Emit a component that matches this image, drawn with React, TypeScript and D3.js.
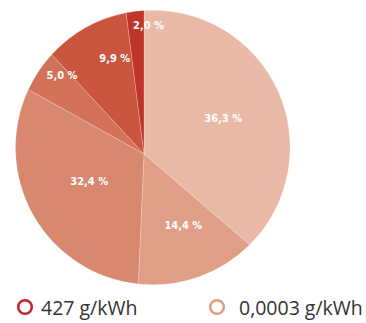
//@ts-nocheck
import { useEffect, useRef } from 'react';
import * as d3 from 'd3';

// slice shares, clockwise from 12 o'clock
const shares = [36.3, 14.4, 32.4, 5.0, 9.9, 2.0];
const shareLabels = ['36,3 %', '14,4 %', '32,4 %', '5,0 %', '9,9 %', '2,0 %'];
const legendNames = ['427 g/kWh', '0,0003 g/kWh'];

const sliceColors = ['#e9baa6', '#e09e87', '#d98870', '#d37259', '#ca553f', '#c0352b'];
const legendColors = ['#c0282d', '#e29c83'];

const App = () => {
    const svgRef = useRef();

    useEffect(() => {
        const svg = d3.select(svgRef.current);
        svg.selectAll('*').remove();

        // slices fan out from this point, the outline is a circle a bit off it
        const apex = [144, 154];
        const ctr = [152.8, 147.5];
        const R = 137.3;

        const pie = d3.pie().sort(null).value((d) => d);
        const arcs = pie(shares);

        const hit = (a) => {
            const dx = Math.sin(a), dy = -Math.cos(a);
            const fx = apex[0] - ctr[0], fy = apex[1] - ctr[1];
            const b = fx * dx + fy * dy;
            const c = fx * fx + fy * fy - R * R;
            const t = -b + Math.sqrt(b * b - c);
            return [apex[0] + t * dx, apex[1] + t * dy];
        };

        const slicePath = (d) => {
            const p0 = hit(d.startAngle);
            const p1 = hit(d.endAngle);
            const p = d3.path();
            p.moveTo(apex[0], apex[1]);
            p.lineTo(p0[0], p0[1]);
            const a0 = Math.atan2(p0[1] - ctr[1], p0[0] - ctr[0]);
            const a1 = Math.atan2(p1[1] - ctr[1], p1[0] - ctr[0]);
            p.arc(ctr[0], ctr[1], R, a0, a1, false);
            p.closePath();
            return p.toString();
        };

        svg.append('g')
            .selectAll('path')
            .data(arcs)
            .enter()
            .append('path')
            .attr('d', slicePath)
            .attr('fill', (d, i) => sliceColors[i])
            .attr('stroke', 'rgba(255,255,255,0.35)')
            .attr('stroke-width', 0.6);

        // label spots: [angle in degrees from 12 o'clock, distance from apex]
        const labelSpots = [[65.5, 87], [151, 81], [244, 61], [314, 114], [343, 100], [2, 129]];

        svg.append('g')
            .selectAll('text')
            .data(arcs)
            .enter()
            .append('text')
            .attr('x', (d, i) => apex[0] + labelSpots[i][1] * Math.sin(labelSpots[i][0] * Math.PI / 180))
            .attr('y', (d, i) => apex[1] - labelSpots[i][1] * Math.cos(labelSpots[i][0] * Math.PI / 180))
            .attr('dy', '0.36em')
            .attr('text-anchor', 'middle')
            .style('font-family', '"Liberation Sans Narrow", "DejaVu Sans Condensed", sans-serif')
            .style('font-weight', 'bold')
            .style('font-size', '11px')
            .style('fill', '#fff')
            .text((d, i) => shareLabels[i]);

        // legend
        const legendX = d3.scalePoint().domain(legendNames).range([25, 217]);
        const legend = svg.append('g');
        legendNames.forEach((name, i) => {
            const x = legendX(name);
            legend.append('circle')
                .attr('cx', x)
                .attr('cy', 307)
                .attr('r', 6.8)
                .attr('fill', 'none')
                .attr('stroke', legendColors[i])
                .attr('stroke-width', 2.6);
            legend.append('text')
                .attr('x', x + (i === 0 ? 16 : 22))
                .attr('y', 315)
                .style('font-family', '"Open Sans", sans-serif')
                .style('font-size', '19.5px')
                .style('fill', '#333')
                .text(name);
        });
    }, []);

    return (
        <svg ref={svgRef} width={366} height={323} style={{ position: 'absolute', left: 0, top: 0 }}></svg>
    );
};

export default App;
